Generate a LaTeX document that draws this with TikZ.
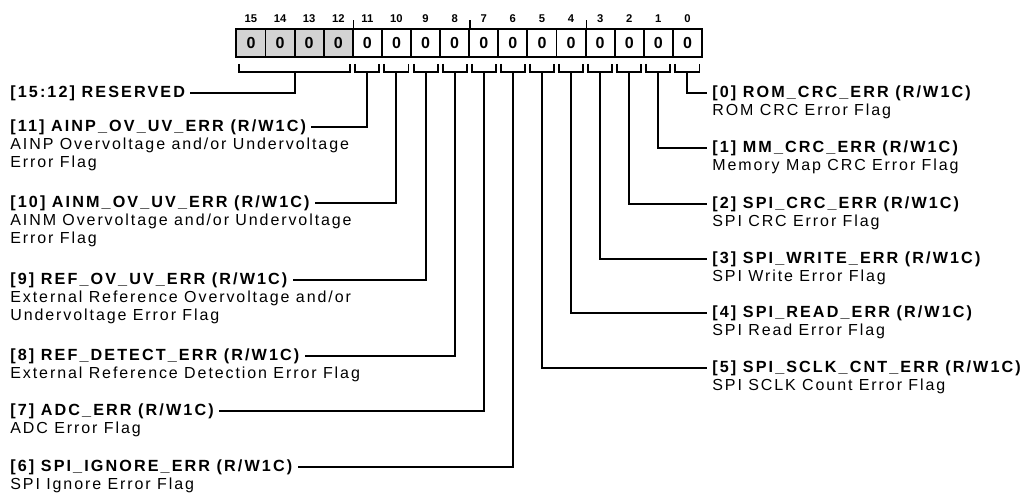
\documentclass[tikz,border=0pt]{standalone}
\usepackage{fontspec}
\usepackage{tikz}
\usetikzlibrary{positioning, calc}
\newfontfamily\regfont[LetterSpace=12]{Liberation Sans}
\newfontfamily\namefont[LetterSpace=13]{Liberation Sans}
\newfontfamily\numfont{Liberation Sans}
\definecolor{regInk}{HTML}{000000}
\definecolor{regReserved}{HTML}{D3D3D3}

\begin{document}
\begin{tikzpicture}[x=0.02cm, y=-0.02cm,
    bitcell/.style={
      rectangle, draw=regInk, line width=1.1pt,
      minimum width=0.582cm, minimum height=0.56cm, inner sep=0pt,
      font=\numfont\fontsize{9.1}{10}\selectfont\bfseries
    },
    bitnum/.style={inner sep=0pt, font=\numfont\fontsize{6.4}{7}\selectfont\bfseries},
    fieldname/.style={
      inner xsep=0.1cm, inner ysep=0pt,
      font=\namefont\fontsize{9.2}{10.24}\selectfont\bfseries
    },
    fielddesc/.style={
      inner sep=0pt, align=left,
      font=\regfont\fontsize{9.1}{10.24}\selectfont
    },
    wire/.style={draw=regInk, line width=1.1pt}
  ]
  \useasboundingbox[fill=white] (0,0) rectangle (1024,493);

  % Registro de 16 bits
  \foreach \i in {0,...,15}{
    \pgfmathsetmacro{\cx}{702-29.1*(\i+.5)}
    \ifnum\i>11 \def\cfill{regReserved}\else\def\cfill{white}\fi
    \node[bitcell, fill=\cfill] (c\i) at (\cx,43) {0};
    \node[bitnum] at (\cx,19) {\i};
  }
  % Marcas de nibble
  \foreach \i in {12,8,4}{
    \draw[wire, line width=0.8pt] (c\i.north east) -- ++(0,-8);
  }

  % Corchetes bajo cada bit
  \foreach \i in {0,...,11}{
    \draw[wire] ([xshift=.07cm,yshift=-.12cm]c\i.south west)
      |- ([yshift=-.28cm]c\i.south)
      -| ([xshift=-.07cm,yshift=-.12cm]c\i.south east);
    \coordinate (s\i) at ([yshift=-.28cm]c\i.south);
  }
  \coordinate (sres) at ($([yshift=-.28cm]c15.south east)!.5!([yshift=-.28cm]c12.south west)$);
  \draw[wire] ([xshift=.07cm,yshift=-.12cm]c15.south west)
    |- (sres) -| ([xshift=-.07cm,yshift=-.12cm]c12.south east);

  % Campos a la izquierda
  \node[fieldname, anchor=west] (hres) at (5,93) {[15:12] RESERVED};
  \node[fieldname, anchor=west] (h11) at (5,127) {[11] AINP\_OV\_UV\_ERR (R/W1C)};
  \node[fielddesc, anchor=base west] (d11) at ([xshift=.1cm,yshift=-.72cm]h11.base west)
    {AINP Overvoltage and/or Undervoltage\\Error Flag};
  \node[fieldname, anchor=west] (h10) at (5,203) {[10] AINM\_OV\_UV\_ERR (R/W1C)};
  \node[fielddesc, anchor=base west] (d10) at ([xshift=.1cm,yshift=-.72cm]h10.base west)
    {AINM Overvoltage and/or Undervoltage\\Error Flag};
  \node[fieldname, anchor=west] (h9) at (5,280) {[9] REF\_OV\_UV\_ERR (R/W1C)};
  \node[fielddesc, anchor=base west] (d9) at ([xshift=.1cm,yshift=-.72cm]h9.base west)
    {External Reference Overvoltage and/or\\Undervoltage Error Flag};
  \node[fieldname, anchor=west] (h8) at (5,356) {[8] REF\_DETECT\_ERR (R/W1C)};
  \node[fielddesc, anchor=base west] (d8) at ([xshift=.1cm,yshift=-.36cm]h8.base west)
    {External Reference Detection Error Flag};
  \node[fieldname, anchor=west] (h7) at (5,411) {[7] ADC\_ERR (R/W1C)};
  \node[fielddesc, anchor=base west] (d7) at ([xshift=.1cm,yshift=-.36cm]h7.base west)
    {ADC Error Flag};
  \node[fieldname, anchor=west] (h6) at (5,467) {[6] SPI\_IGNORE\_ERR (R/W1C)};
  \node[fielddesc, anchor=base west] (d6) at ([xshift=.1cm,yshift=-.36cm]h6.base west)
    {SPI Ignore Error Flag};

  % Campos a la derecha
  \node[fieldname, anchor=west] (h0) at (707,93) {[0] ROM\_CRC\_ERR (R/W1C)};
  \node[fielddesc, anchor=base west] (d0) at ([xshift=.1cm,yshift=-.36cm]h0.base west)
    {ROM CRC Error Flag};
  \node[fieldname, anchor=west] (h1) at (707,148) {[1] MM\_CRC\_ERR (R/W1C)};
  \node[fielddesc, anchor=base west] (d1) at ([xshift=.1cm,yshift=-.36cm]h1.base west)
    {Memory Map CRC Error Flag};
  \node[fieldname, anchor=west] (h2) at (707,204) {[2] SPI\_CRC\_ERR (R/W1C)};
  \node[fielddesc, anchor=base west] (d2) at ([xshift=.1cm,yshift=-.36cm]h2.base west)
    {SPI CRC Error Flag};
  \node[fieldname, anchor=west] (h3) at (707,259) {[3] SPI\_WRITE\_ERR (R/W1C)};
  \node[fielddesc, anchor=base west] (d3) at ([xshift=.1cm,yshift=-.36cm]h3.base west)
    {SPI Write Error Flag};
  \node[fieldname, anchor=west] (h4) at (707,313) {[4] SPI\_READ\_ERR (R/W1C)};
  \node[fielddesc, anchor=base west] (d4) at ([xshift=.1cm,yshift=-.36cm]h4.base west)
    {SPI Read Error Flag};
  \node[fieldname, anchor=west] (h5) at (707,368) {[5] SPI\_SCLK\_CNT\_ERR (R/W1C)};
  \node[fielddesc, anchor=base west] (d5) at ([xshift=.1cm,yshift=-.36cm]h5.base west)
    {SPI SCLK Count Error Flag};

  % Conectores
  \draw[wire] (sres) |- (hres.east);
  \foreach \i in {6,...,11}{
    \draw[wire] (s\i) |- (h\i.east);
  }
  \foreach \i in {0,...,5}{
    \draw[wire] (s\i) |- (h\i.west);
  }
\end{tikzpicture}
\end{document}
